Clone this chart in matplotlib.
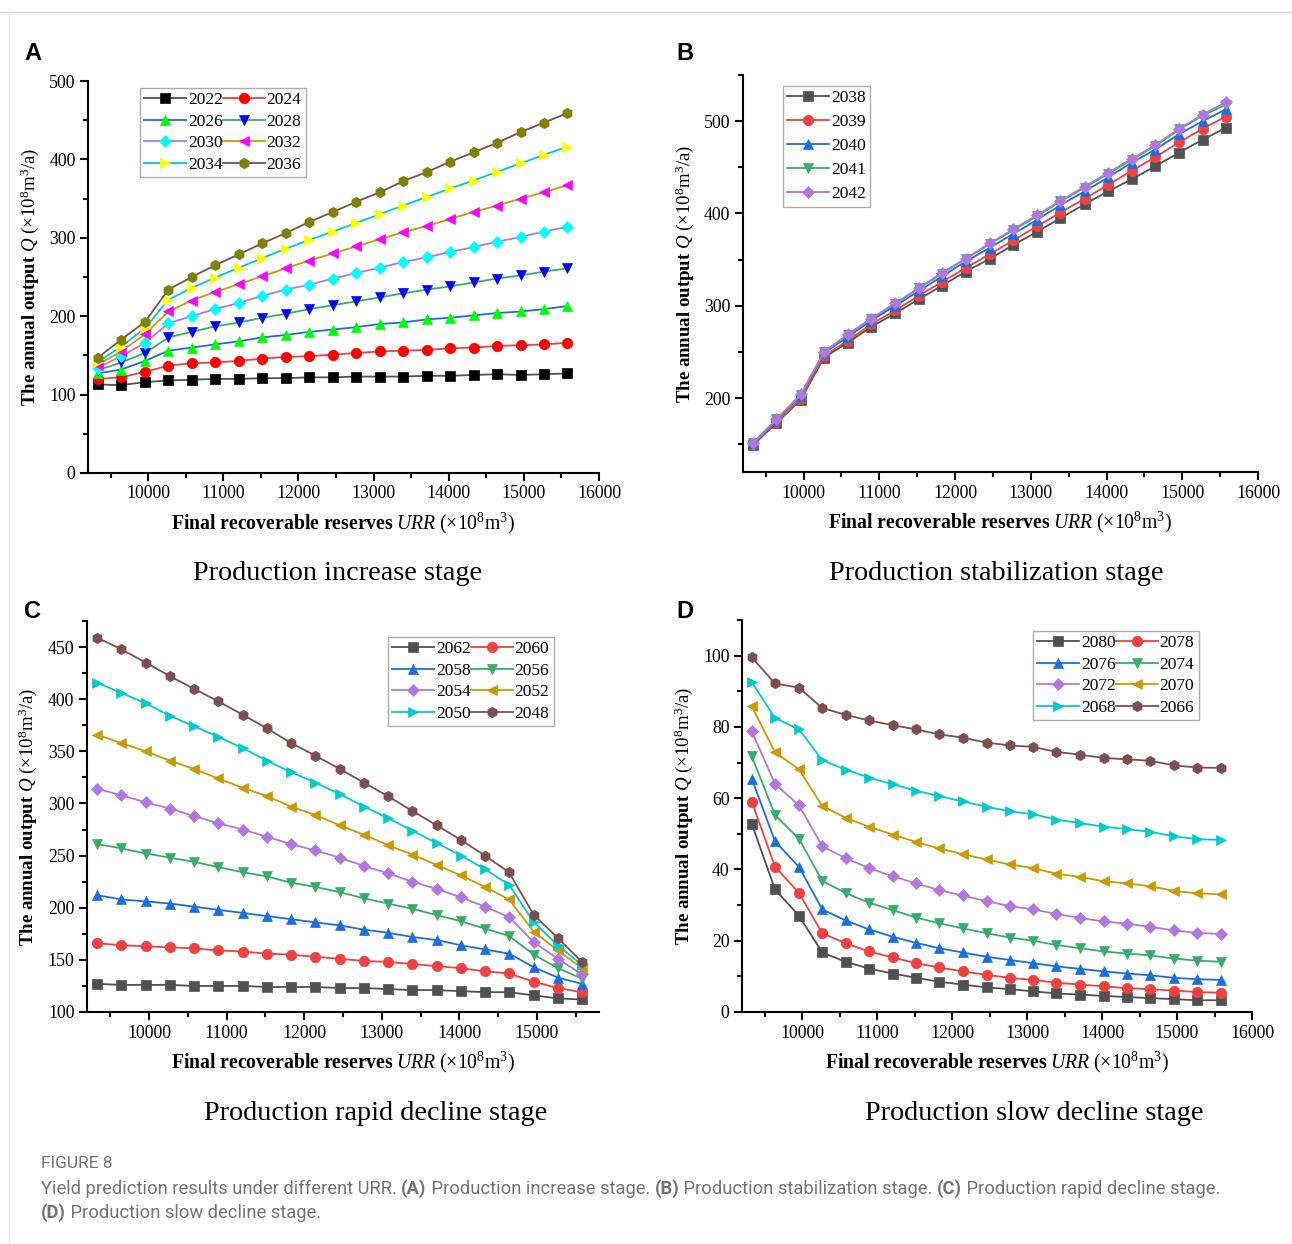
import matplotlib
matplotlib.use('Agg')
import matplotlib.pyplot as plt
from matplotlib.lines import Line2D
from matplotlib.ticker import MultipleLocator

plt.rcParams['font.family'] = 'Liberation Serif'
plt.rcParams['mathtext.fontset'] = 'custom'
plt.rcParams['mathtext.rm'] = 'Liberation Serif'
plt.rcParams['mathtext.it'] = 'Liberation Serif:italic'
plt.rcParams['mathtext.bf'] = 'Liberation Serif:bold'

# final recoverable reserves (x values, 10^8 m3)
urr = [9330, 9640, 9960, 10270, 10580, 10890, 11210, 11520, 11830, 12140, 12460,
       12770, 13080, 13390, 13710, 14020, 14330, 14640, 14960, 15270, 15580]

# (A) production increase stage
years_a = ['2022', '2024', '2026', '2028', '2030', '2032', '2034', '2036']
q2022 = [113, 112, 116, 118, 119, 120, 120, 121, 121, 122, 122, 123, 123, 123, 124, 124, 125, 126, 125, 126, 127]
q2024 = [120, 122, 129, 137, 140, 141, 143, 146, 148, 149, 151, 153, 155, 156, 157, 159, 160, 162, 163, 164, 166]
q2026 = [127, 132, 143, 156, 160, 164, 168, 173, 176, 180, 183, 186, 190, 192, 196, 198, 201, 204, 206, 209, 213]
q2028 = [131, 141, 153, 173, 180, 187, 192, 198, 203, 209, 214, 219, 224, 229, 234, 238, 243, 248, 252, 257, 261]
q2030 = [134, 149, 166, 191, 200, 209, 217, 226, 234, 240, 248, 255, 262, 269, 275, 282, 288, 295, 301, 308, 314]
q2032 = [138, 155, 177, 206, 220, 231, 241, 251, 261, 271, 280, 289, 298, 307, 315, 324, 333, 341, 350, 358, 367]
q2034 = [142, 161, 185, 221, 236, 249, 262, 274, 286, 297, 308, 319, 330, 341, 352, 363, 373, 384, 395, 406, 416]
q2036 = [147, 170, 193, 234, 250, 265, 279, 293, 306, 320, 333, 346, 358, 372, 384, 397, 409, 421, 435, 447, 459]

# (B) production stabilization stage
years_b = ['2038', '2039', '2040', '2041', '2042']
q2038 = [149, 173, 198, 244, 260, 277, 292, 307, 322, 337, 351, 366, 380, 395, 410, 424, 437, 451, 466, 480, 493]
q2039 = [150, 174, 199, 246, 262, 280, 295, 311, 326, 341, 356, 371, 386, 401, 416, 431, 446, 461, 477, 492, 505]
q2040 = [151, 176, 202, 249, 266, 284, 300, 316, 332, 348, 363, 378, 393, 409, 424, 439, 455, 469, 486, 500, 513]
q2041 = [151, 177, 203, 250, 268, 286, 302, 319, 335, 351, 367, 382, 397, 413, 428, 443, 458, 473, 491, 506, 518]
q2042 = [151, 177, 204, 250, 269, 286, 303, 319, 336, 351, 368, 383, 398, 414, 429, 444, 459, 474, 492, 507, 521]

# (C) production rapid decline stage
years_c = ['2062', '2060', '2058', '2056', '2054', '2052', '2050', '2048']
q2062 = [127, 126, 126, 126, 125, 125, 125, 124, 124, 124, 123, 123, 122, 121, 121, 120, 119, 119, 116, 113, 112]
q2060 = [166, 164, 163, 162, 161, 159, 158, 156, 155, 153, 151, 149, 148, 146, 144, 142, 139, 137, 129, 123, 119]
q2058 = [212, 208, 206, 204, 201, 198, 195, 192, 189, 186, 183, 179, 176, 172, 169, 164, 160, 156, 143, 133, 127]
q2056 = [261, 257, 252, 248, 244, 239, 234, 230, 224, 220, 215, 209, 204, 199, 193, 187, 180, 173, 155, 142, 132]
q2054 = [314, 308, 301, 295, 288, 281, 275, 268, 261, 255, 248, 240, 233, 225, 218, 210, 201, 191, 167, 151, 136]
q2052 = [366, 358, 350, 341, 333, 324, 315, 307, 297, 289, 279, 270, 260, 251, 241, 231, 220, 208, 177, 159, 142]
q2050 = [416, 406, 396, 384, 374, 364, 353, 341, 330, 320, 309, 297, 286, 274, 262, 250, 237, 222, 186, 164, 145]
q2048 = [459, 448, 435, 422, 410, 398, 385, 372, 358, 346, 333, 320, 307, 293, 279, 265, 250, 234, 193, 171, 148]

# (D) production slow decline stage
years_d = ['2080', '2078', '2076', '2074', '2072', '2070', '2068', '2066']
q2080 = [52.8, 34.4, 27.0, 16.7, 14.1, 12.2, 10.8, 9.6, 8.5, 7.7, 6.9, 6.4, 5.8, 5.2, 4.9, 4.5, 4.2, 3.9, 3.6, 3.3, 3.3]
q2078 = [59.0, 40.8, 33.4, 22.1, 19.3, 17.0, 15.3, 13.7, 12.5, 11.4, 10.4, 9.6, 9.0, 8.2, 7.7, 7.2, 6.7, 6.4, 6.0, 5.6, 5.4]
q2076 = [65.5, 47.9, 40.7, 28.8, 25.7, 23.2, 21.1, 19.4, 17.9, 16.7, 15.5, 14.6, 13.7, 12.8, 12.1, 11.4, 10.8, 10.3, 9.6, 9.2, 9.0]
q2074 = [71.8, 55.3, 48.6, 36.8, 33.4, 30.7, 28.6, 26.5, 24.9, 23.5, 22.1, 20.9, 20.0, 18.8, 17.9, 17.0, 16.4, 15.9, 15.0, 14.4, 14.1]
q2072 = [78.8, 64.0, 58.0, 46.5, 43.2, 40.4, 38.1, 36.1, 34.2, 32.7, 31.1, 29.7, 28.8, 27.5, 26.4, 25.4, 24.8, 23.9, 22.9, 22.2, 21.9]
q2070 = [85.8, 72.9, 68.1, 57.8, 54.5, 52.0, 49.8, 47.7, 45.9, 44.3, 42.8, 41.4, 40.4, 38.8, 37.9, 36.7, 36.1, 35.3, 34.0, 33.3, 33.0]
q2068 = [92.6, 82.5, 79.3, 70.7, 68.0, 65.8, 63.9, 62.1, 60.6, 59.1, 57.6, 56.3, 55.5, 54.0, 53.0, 52.0, 51.3, 50.6, 49.3, 48.5, 48.3]
q2066 = [99.5, 92.2, 91.0, 85.3, 83.4, 81.8, 80.5, 79.3, 77.9, 77.0, 75.6, 74.8, 74.4, 73.0, 72.2, 71.3, 70.9, 70.5, 69.2, 68.6, 68.5]

# Origin style palette / symbol order
line_cols = ['#515151', '#F14040', '#1A6FDF', '#37AD6B', '#B177DE', '#CC9900', '#00CBCC', '#7D4E4E']
marks = ['s', 'o', '^', 'v', 'D', '<', '>', 'h']
msizes = [7, 7.5, 7.5, 7.5, 6, 7.5, 7.5, 7.5]
# panel A uses different fill colours for symbols
mark_cols_a = ['#000000', '#FF0000', '#00FF00', '#0000FF', '#00FFFF', '#FF00FF', '#FFFF00', '#808000']

W, H = 1292, 1244
fig = plt.figure(figsize=(W / 100, H / 100), dpi=100)


def px_axes(l, t, r, b):
    return fig.add_axes([l / W, 1 - b / H, (r - l) / W, (b - t) / H])


def style(ax, xlim, ylim, ymaj, ymin, xticks):
    ax.set_xlim(*xlim)
    ax.set_ylim(*ylim)
    ax.spines['top'].set_visible(False)
    ax.spines['right'].set_visible(False)
    for s in ['left', 'bottom']:
        ax.spines[s].set_linewidth(1.5)
    ax.set_xticks(xticks)
    ax.xaxis.set_minor_locator(MultipleLocator(500))
    ax.yaxis.set_major_locator(MultipleLocator(ymaj))
    ax.yaxis.set_minor_locator(MultipleLocator(ymin))
    ax.tick_params(which='major', direction='out', length=6, width=1.5, labelsize=12.8, pad=3)
    ax.tick_params(which='minor', direction='out', length=3.5, width=1.5)
    ax.set_xlabel(r'$\mathbf{Final\ recoverable\ reserves}\ \mathit{URR}\ (\times10^8\mathrm{m}^3)$',
                  fontsize=14.2, labelpad=6)
    ax.set_ylabel(r'$\mathbf{The\ annual\ output}\ \mathit{Q}\ (\times10^8\mathrm{m}^3/\mathrm{a})$',
                  fontsize=13.6, labelpad=6)


def add_legend(ax, handles, labels, x, y, ncol, lsp):
    if ncol == 2:
        handles = handles[0::2] + handles[1::2]
        labels = labels[0::2] + labels[1::2]
    leg = ax.legend(handles, labels, ncol=ncol, loc='upper left',
                    bbox_to_anchor=(x / W, 1 - y / H), bbox_transform=fig.transFigure,
                    fontsize=12.5, frameon=True, fancybox=False, edgecolor='#999999',
                    handlelength=2.4, handletextpad=0.12, columnspacing=0.0,
                    labelspacing=lsp, borderpad=0.25, borderaxespad=0)
    leg.get_frame().set_linewidth(1.0)


# ---- A ----
axA = px_axes(88, 81, 599, 473)
seriesA = [q2022, q2024, q2026, q2028, q2030, q2032, q2034, q2036]
hs = []
for i, q in enumerate(seriesA):
    h, = axA.plot(urr, q, color=line_cols[i], lw=1.3, marker=marks[i], ms=msizes[i],
                  mfc=mark_cols_a[i], mec=mark_cols_a[i], mew=0.5)
    hs.append(h)
style(axA, (9200, 16000), (0, 500), 100, 50, range(10000, 16001, 1000))
add_legend(axA, hs, years_a, 140, 88, 2, 0.3)

# ---- B ----
axB = px_axes(743, 75, 1258, 472)
seriesB = [q2038, q2039, q2040, q2041, q2042]
hs = []
for i, q in enumerate(seriesB):
    h, = axB.plot(urr, q, color=line_cols[i], lw=1.3, marker=marks[i], ms=msizes[i],
                  mfc=line_cols[i], mec=line_cols[i], mew=0.5)
    hs.append(h)
style(axB, (9200, 16000), (120, 550), 100, 50, range(10000, 16001, 1000))
add_legend(axB, hs, years_b, 783, 86, 1, 0.45)

# ---- C ----
axC = px_axes(87, 621, 599, 1012)
seriesC = [q2062, q2060, q2058, q2056, q2054, q2052, q2050, q2048]
hs = []
for i, q in enumerate(seriesC):
    h, = axC.plot(urr, q, color=line_cols[i], lw=1.3, marker=marks[i], ms=msizes[i],
                  mfc=line_cols[i], mec=line_cols[i], mew=0.5)
    hs.append(h)
style(axC, (9200, 15800), (100, 475), 50, 25, range(10000, 15001, 1000))
add_legend(axC, hs, years_c, 388, 637, 2, 0.3)

# ---- D ----
axD = px_axes(742, 620, 1252, 1012)
seriesD = [q2080, q2078, q2076, q2074, q2072, q2070, q2068, q2066]
hs = []
for i, q in enumerate(seriesD):
    h, = axD.plot(urr, q, color=line_cols[i], lw=1.3, marker=marks[i], ms=msizes[i],
                  mfc=line_cols[i], mec=line_cols[i], mew=0.5)
    hs.append(h)
style(axD, (9200, 16000), (0, 110), 20, 10, range(10000, 16001, 1000))
add_legend(axD, hs, years_d, 1033, 631, 2, 0.3)

# panel letters
for lab, x, y in [('A', 24, 53), ('B', 676, 53), ('C', 24, 611), ('D', 676, 611)]:
    fig.text(x / W, 1 - y / H, lab, family='Liberation Sans', weight='bold', fontsize=17,
             va='center', ha='left')

# stage titles
for lab, x, y in [('Production increase stage', 338, 574),
                  ('Production stabilization stage', 996, 574),
                  ('Production rapid decline stage', 376, 1113),
                  ('Production slow decline stage', 1034, 1113)]:
    fig.text(x / W, 1 - y / H, lab, fontsize=20.3, ha='center', va='center')

# frame lines of the page
fig.add_artist(Line2D([0, 1], [1 - 12 / H, 1 - 12 / H], transform=fig.transFigure,
                      color='#d9d9d9', lw=1))
fig.add_artist(Line2D([9 / W, 9 / W], [0, 1 - 12 / H], transform=fig.transFigure,
                      color='#e3e3e3', lw=1))

# caption
cap_col = '#737373'
fig.text(41 / W, 1 - 1164 / H, 'FIGURE 8', family='Roboto', fontsize=12.5, color=cap_col,
         va='center')
renderer = fig.canvas.get_renderer()


def caption_line(pieces, x0, y):
    x = x0
    for txt, bold in pieces:
        t = fig.text(x / W, 1 - y / H, txt, family='Roboto', fontsize=13.2, color=cap_col,
                     weight='bold' if bold else 'normal', va='center')
        bb = t.get_window_extent(renderer)
        x += bb.width


caption_line([('Yield prediction results under different URR. ', False), ('(A)', True),
              (' Production increase stage. ', False), ('(B)', True),
              (' Production stabilization stage. ', False), ('(C)', True),
              (' Production rapid decline stage.', False)], 41, 1189)
caption_line([('(D)', True), (' Production slow decline stage.', False)], 41, 1213)

fig.savefig('out.png', dpi=100)
